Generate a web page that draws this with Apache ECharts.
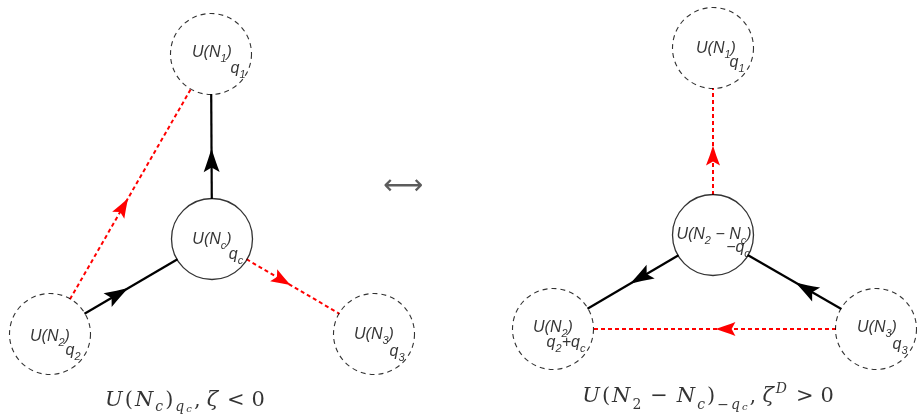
<!DOCTYPE html>
<html><head><meta charset="utf-8">
<script src="https://cdn.jsdelivr.net/npm/echarts@6/dist/echarts.min.js"></script>
<style>html,body{margin:0;padding:0;background:#fff}#c{width:917px;height:419px}</style>
</head><body><div id="c"></div>
<script>
// ---- data ----
const nodeIds    = ['L1','Lc','L2','L3','R1','Rc','R2','R3'];
const nodeX      = [211, 212, 50, 374, 713, 713, 553, 876];
const nodeY      = [54, 239, 334, 334, 48, 235, 329, 329];
const nodeFlavor = [true, false, true, true, true, false, true, true];
const nodeGauge  = ['{m|U(N}{s|1}{m|)}','{m|U(N}{s|c}{m|)}','{m|U(N}{s|2}{m|)}','{m|U(N}{s|3}{m|)}',
                    '{m|U(N}{s|1}{m|)}','{m|U(N}{s|2}{m| − N}{s|c}{m|)}','{m|U(N}{s|2}{m|)}','{m|U(N}{s|3}{m|)}'];
const nodeCharge = ['{m|q}{s|1}','{m|q}{s|c}','{m|q}{s|2}','{m|q}{s|3}',
                    '{m|q}{s|1}','{m|−q}{s|c}','{m|q}{s|2}{m|+q}{s|c}','{m|q}{s|3}'];
const edgeFrom   = ['Lc','L2','L2','Lc','Rc','Rc','R3','R3'];
const edgeTo     = ['L1','Lc','L1','L3','R1','R2','Rc','R2'];
const edgeMeson  = [false,false,true,true,true,false,false,true];
const edgeArrowAt= [0.37,0.36,0.44,0.385,0.37,0.42,0.38,0.455];
const captionText= ['{i|U}{r|(}{i|N}{si|c}{r|)}{si|q}{ssi|c}{r|,\u2009}{i|ζ}{r|\u2004<\u20040}',
                    '{i|U}{r|(}{i|N}{sr|2}{r|\u2004−\u2004}{i|N}{si|c}{r|)}{sr|−}{si|q}{ssi|c}{r|,\u2009}{i|ζ}{sup|D}{r|\u2004>\u20040}'];

// ---- layout ----
const R = 40;
const mainOff = [[1,-1],[0,1],[0,3],[0,1],[3,1],[1,0],[0,-1],[1,-1]];
const subOff  = [[27,15],[24,16],[23,17],[23,18],[24,15],[25,13],[13,14],[24,16]];
const captionPos = [[185,401],[708,397]];
const swapPos = [403,187];

const idx = id => nodeIds.indexOf(id);
const lineData = [], quarkArrows = [], mesonArrows = [];
edgeFrom.forEach((f,k)=>{
  const a = idx(f), b = idx(edgeTo[k]);
  const dx = nodeX[b]-nodeX[a], dy = nodeY[b]-nodeY[a];
  const L = Math.hypot(dx,dy), ux = dx/L, uy = dy/L;
  const s = [nodeX[a]+ux*R, nodeY[a]+uy*R], e = [nodeX[b]-ux*R, nodeY[b]-uy*R];
  const col = edgeMeson[k] ? '#ff0000' : '#000';
  lineData.push({coords:[s,e], lineStyle:{color:col, opacity:1, width: edgeMeson[k]?2:2.2, type: edgeMeson[k]?[4,3]:'solid'}});
  const t = edgeArrowAt[k];
  const rot = Math.atan2(-dy, dx)*180/Math.PI - 90;
  (edgeMeson[k]?mesonArrows:quarkArrows).push({value:[s[0]+(e[0]-s[0])*t, s[1]+(e[1]-s[1])*t], symbolRotate: rot});
});

const sf = 'Liberation Sans';
const sansRich = {
  m:{fontFamily:sf, fontStyle:'italic', fontSize:16, color:'#000', lineHeight:22, verticalAlign:'middle'},
  s:{fontFamily:sf, fontStyle:'italic', fontSize:11, color:'#000', lineHeight:12, verticalAlign:'bottom'}
};
const serif = 'DejaVu Serif';
const P = [0,1];
const capRich = {
  i:{fontFamily:serif, fontStyle:'italic', fontSize:21, color:'#000', lineHeight:26, verticalAlign:'middle', padding:P},
  r:{fontFamily:serif, fontSize:21, color:'#000', lineHeight:26, verticalAlign:'middle', padding:P},
  si:{fontFamily:serif, fontStyle:'italic', fontSize:14, color:'#000', lineHeight:16, verticalAlign:'bottom', padding:P},
  sr:{fontFamily:serif, fontSize:14, color:'#000', lineHeight:16, verticalAlign:'bottom', padding:P},
  ssi:{fontFamily:serif, fontStyle:'italic', fontSize:10, color:'#000', lineHeight:10, verticalAlign:'bottom', padding:P},
  sup:{fontFamily:serif, fontStyle:'italic', fontSize:14, color:'#000', lineHeight:30, verticalAlign:'top', padding:P}
};

const nodeData = nodeIds.map((id,i)=>({value:[nodeX[i],nodeY[i]],
  itemStyle:{color:'rgba(0,0,0,0)', borderColor:'#000', borderWidth: nodeFlavor[i]?1.1:1.3,
    borderType: nodeFlavor[i]?[5,4]:'solid'}}));
const labelData = [];
nodeIds.forEach((id,i)=>{
  labelData.push({value:[nodeX[i],nodeY[i]], label:{formatter:nodeGauge[i], offset:mainOff[i]}});
  labelData.push({value:[nodeX[i],nodeY[i]], label:{formatter:nodeCharge[i], offset:subOff[i]}});
});
const arrowPath = 'path://M0,0 C2,6 5,14 8,21 L0,17 L-8,21 C-5,14 -2,6 0,0 Z';

const chart = echarts.init(document.getElementById('c'), null, {renderer:'canvas'});
chart.setOption({
  animation:false,
  backgroundColor:'#fff',
  grid:{left:0,right:0,top:0,bottom:0},
  xAxis:{type:'value', min:0, max:917, show:false},
  yAxis:{type:'value', min:0, max:419, inverse:true, show:false},
  series:[
    {type:'lines', coordinateSystem:'cartesian2d', silent:true, z:1, data:lineData},
    {type:'scatter', silent:true, z:2, symbol:'circle', symbolSize:81, data:nodeData},
    {type:'scatter', silent:true, z:3, symbol:arrowPath, symbolSize:[16,24], itemStyle:{color:'#000', opacity:1}, data:quarkArrows},
    {type:'scatter', silent:true, z:3, symbol:arrowPath, symbolSize:[14,20], itemStyle:{color:'#ff0000', opacity:1}, data:mesonArrows},
    {type:'scatter', silent:true, z:4, symbolSize:0, data:labelData,
      label:{show:true, position:'inside', rich:sansRich}},
    {type:'scatter', silent:true, z:4, symbolSize:0,
      data:captionText.map((t,k)=>({value:captionPos[k], label:{formatter:t}})),
      label:{show:true, position:'inside', rich:capRich}},
    {type:'scatter', silent:true, z:4, symbolSize:0, data:[{value:swapPos}],
      label:{show:true, position:'inside', formatter:'⟷', fontFamily:'DejaVu Sans', fontSize:28, color:'#333'}}
  ]
});
</script></body></html>
